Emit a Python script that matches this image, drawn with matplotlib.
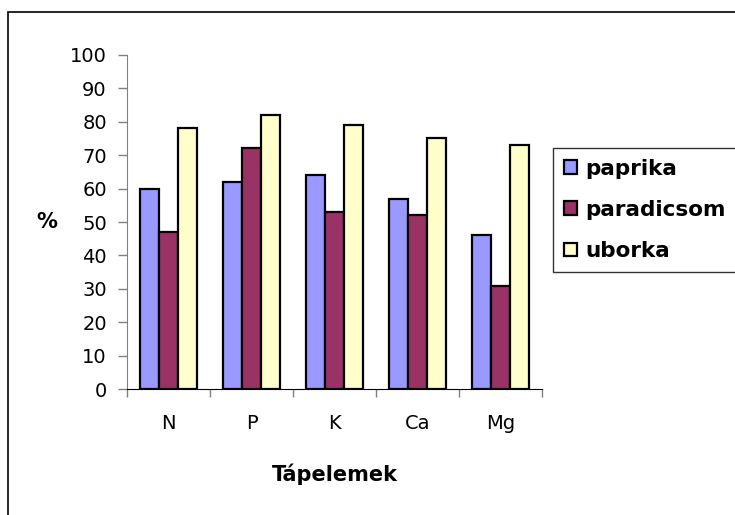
import numpy as np
import matplotlib.pyplot as plt
from matplotlib.patches import Rectangle

plt.rcParams['font.family'] = ['DejaVu Sans']

# Data
categories = ['N', 'P', 'K', 'Ca', 'Mg']
paprika = [60, 62, 64, 57, 46]
paradicsom = [47, 72, 53, 52, 31]
uborka = [78, 82, 79, 75, 73]
series_names = ['paprika', 'paradicsom', 'uborka']
colors = ['#9999ff', '#993366', '#ffffcc']

fig = plt.figure(figsize=(7.35, 5.15), dpi=100)
ax = fig.add_axes([127 / 735, 1 - 389.3 / 515, 415 / 735, 334.6 / 515])

# outer chart frame (runs off the right and bottom edge)
fig.patches.append(Rectangle((8 / 735, -0.1), 1.2, 1 - 12 / 515 + 0.1,
                             transform=fig.transFigure, fill=False,
                             edgecolor='black', linewidth=1.2))

x = np.arange(len(categories))
width = 0.229
for i, (vals, name) in enumerate(zip([paprika, paradicsom, uborka], series_names)):
    ax.bar(x + (i - 1) * width, vals, width, color=colors[i],
           edgecolor='black', linewidth=1.6, label=name)

ax.set_xlim(-0.5, len(categories) - 0.5)
ax.set_ylim(0, 100)
ax.set_yticks(range(0, 101, 10))
ax.tick_params(axis='y', labelsize=14, length=6.5, width=1, color='#808080', pad=8)

# category labels between boundary ticks
ax.set_xticks(np.arange(-0.5, len(categories), 1))
ax.set_xticklabels([])
ax.set_xticks(x, minor=True)
ax.set_xticklabels(categories, minor=True, fontsize=14)
ax.tick_params(axis='x', which='major', length=6, width=1, color='#808080')
ax.tick_params(axis='x', which='minor', length=0, pad=18)

for side in ['top', 'right']:
    ax.spines[side].set_visible(False)
ax.spines['left'].set_color('#808080')
ax.spines['bottom'].set_color('black')

ax.set_xlabel('Tápelemek', fontsize=15, fontweight='bold', labelpad=22)
ax.set_ylabel('%', fontsize=15, fontweight='bold', rotation=0, va='center')
ax.yaxis.set_label_coords(-0.193, 0.5)

leg = ax.legend(loc='upper left', bbox_to_anchor=(553 / 735, 1 - 148 / 515),
                bbox_transform=fig.transFigure, prop={'weight': 'bold', 'size': 15.5},
                frameon=True, fancybox=False, edgecolor='black', borderpad=0.5,
                handlelength=0.6, handleheight=0.6, handletextpad=0.4,
                labelspacing=0.98, borderaxespad=0)
leg.get_frame().set_linewidth(1.0)

fig.savefig('out.png', dpi=100)
